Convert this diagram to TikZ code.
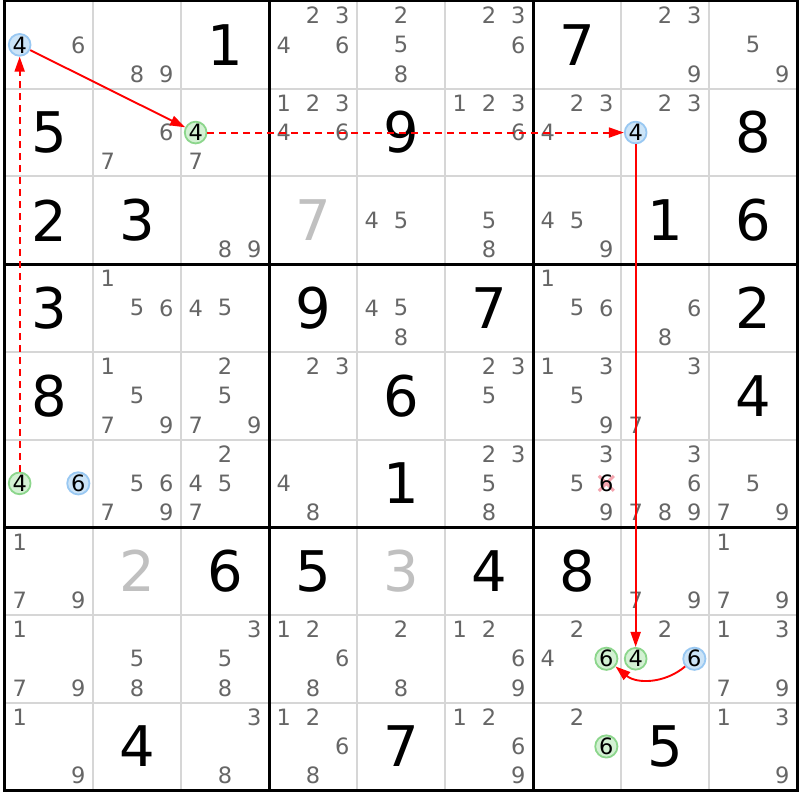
\documentclass[tikz,border=0pt]{standalone}
\usepackage{fontspec}
\setmainfont{DejaVu Sans}
\usetikzlibrary{arrows.meta}

\definecolor{candgray}{HTML}{666666}
\definecolor{solvedgray}{HTML}{C0C0C0}
\definecolor{gridgray}{HTML}{D6D6D6}
\definecolor{onfill}{HTML}{CCE4F7}
\definecolor{ondraw}{HTML}{99C8F2}
\definecolor{offfill}{HTML}{D3F1D3}
\definecolor{offdraw}{HTML}{8CD68C}
\definecolor{linkred}{HTML}{FF0000}
\definecolor{crosspink}{HTML}{F4A4AE}

\begin{document}
\begin{tikzpicture}[x=88pt, y=-87.7pt,
  given/.style = {inner sep=0pt, font=\fontsize{56}{56}\selectfont},
  solved/.style = {given, text=solvedgray},
  cand/.style = {inner sep=0pt, text=candgray, font=\fontsize{22.5}{22.5}\selectfont},
  oncand/.style = {circle, draw=ondraw, fill=onfill, line width=1.8pt, minimum size=21.5pt, inner sep=0pt, font=\fontsize{22.5}{22.5}\selectfont},
  offcand/.style = {oncand, draw=offdraw, fill=offfill},
  strong/.style = {-{Triangle[length=15pt, width=10pt]}, draw=linkred, line width=1.9pt},
  weak/.style = {strong, dash pattern=on 7pt off 5pt}]
  \useasboundingbox [fill=white] (-0.0568, -0.0114) rectangle (9.0341, 9.1106);

  % Grid.
  \foreach \i in {1,2,4,5,7,8} {
    \draw [gridgray, line width=2pt] (\i, 0) -- (\i, 9);
    \draw [gridgray, line width=2pt] (0, \i) -- (9, \i);
  }
  \foreach \i in {3,6} {
    \draw [line width=3pt] (\i, 0) -- (\i, 9);
    \draw [line width=3pt] (0, \i) -- (9, \i);
  }
  \draw [line width=3pt] (0, 0) rectangle (9, 9);

  % Givens.
  \foreach \r/\c/\d in {1/3/1, 1/7/7, 2/1/5, 2/5/9, 2/9/8, 3/1/2, 3/2/3, 3/8/1, 3/9/6,
                        4/1/3, 4/4/9, 4/6/7, 4/9/2, 5/1/8, 5/5/6, 5/9/4, 6/5/1,
                        7/3/6, 7/4/5, 7/6/4, 7/7/8, 9/2/4, 9/5/7, 9/8/5}
    \node at (\c-0.5, \r-0.5) [given, name=g\r\c] {\d};

  % Solved cells.
  \foreach \r/\c/\d in {3/4/7, 7/2/2, 7/5/3}
    \node at (\c-0.5, \r-0.5) [solved, name=g\r\c] {\d};

  % Candidates.
  \foreach \r/\c/\ks in {1/1/{6}, 1/2/{8,9}, 1/4/{2,3,4,6}, 1/5/{2,5,8}, 1/6/{2,3,6}, 1/8/{2,3,9}, 1/9/{5,9},
                         2/2/{6,7}, 2/3/{7}, 2/4/{1,2,3,4,6}, 2/6/{1,2,3,6}, 2/7/{2,3,4}, 2/8/{2,3},
                         3/3/{8,9}, 3/5/{4,5}, 3/6/{5,8}, 3/7/{4,5,9},
                         4/2/{1,5,6}, 4/3/{4,5}, 4/5/{4,5,8}, 4/7/{1,5,6}, 4/8/{6,8},
                         5/2/{1,5,7,9}, 5/3/{2,5,7,9}, 5/4/{2,3}, 5/6/{2,3,5}, 5/7/{1,3,5,9}, 5/8/{3,7},
                         6/2/{5,6,7,9}, 6/3/{2,4,5,7}, 6/4/{4,8}, 6/6/{2,3,5,8}, 6/7/{3,5,9}, 6/8/{3,6,7,8,9}, 6/9/{5,7,9},
                         7/1/{1,7,9}, 7/8/{7,9}, 7/9/{1,7,9},
                         8/1/{1,7,9}, 8/2/{5,8}, 8/3/{3,5,8}, 8/4/{1,2,6,8}, 8/5/{2,8}, 8/6/{1,2,6,9}, 8/7/{2,4}, 8/8/{2}, 8/9/{1,3,7,9},
                         9/1/{1,9}, 9/3/{3,8}, 9/4/{1,2,6,8}, 9/6/{1,2,6,9}, 9/7/{2}, 9/9/{1,3,9}} {
    \foreach \k in \ks {
      \pgfmathtruncatemacro\kx{mod(\k-1,3)}
      \pgfmathtruncatemacro\ky{(\k-1)/3}
      \node at (\c-1+\kx/3+1/6, \r-1+\ky/3+1/6) [cand, name=n\r\c-\k] {\k};
    }
  }

  % Eliminated candidate.
  \coordinate (x67) at (6+5/6, 5.5);
  \draw [crosspink, line width=3pt] (x67) ++(-7.5pt, -7.5pt) -- ++(15pt, 15pt);
  \draw [crosspink, line width=3pt] (x67) ++(-7.5pt, 7.5pt) -- ++(15pt, -15pt);
  \node at (x67) [cand, text=black, name=n67-6] {6};

  % Chain candidates.
  \node at (1/6, 0.5) [oncand, name=n11-4] {4};
  \node at (2+1/6, 1.5) [offcand, name=n23-4] {4};
  \node at (7+1/6, 1.5) [oncand, name=n28-4] {4};
  \node at (1/6, 5.5) [offcand, name=n61-4] {4};
  \node at (5/6, 5.5) [oncand, name=n61-6] {6};
  \node at (6+5/6, 7.5) [offcand, name=n87-6] {6};
  \node at (7+1/6, 7.5) [offcand, name=n88-4] {4};
  \node at (7+5/6, 7.5) [oncand, name=n88-6] {6};
  \node at (6+5/6, 8.5) [offcand, name=n97-6] {6};

  % Links.
  \draw [strong] (n11-4) to (n23-4);
  \draw [weak] (n23-4) to (n28-4);
  \draw [strong] (n28-4) to (n88-4);
  \draw [strong] (n88-6) to [bend left=40] (n87-6);
  \draw [weak] (n61-4) to (n11-4);
\end{tikzpicture}
\end{document}
